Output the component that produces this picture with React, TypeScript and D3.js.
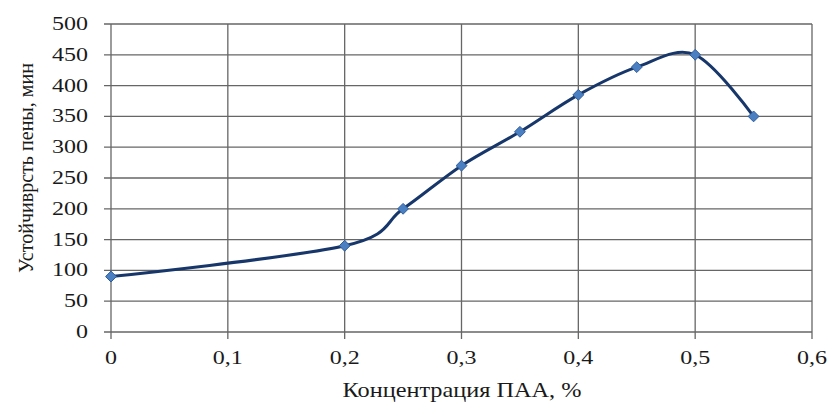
import { useEffect, useRef } from "react";
import * as d3 from "d3";

// Concentration of PAA (%) and foam stability (min)
const CONC = [0, 0.2, 0.25, 0.3, 0.35, 0.4, 0.45, 0.5, 0.55];
const STABILITY = [90, 140, 200, 270, 325, 385, 430, 450, 350];
const X_TICKS = [0, 0.1, 0.2, 0.3, 0.4, 0.5, 0.6];
const Y_TICKS = [0, 50, 100, 150, 200, 250, 300, 350, 400, 450, 500];

const X_TITLE = "Концентрация ПАА, %";
const Y_TITLE = "Устойчиврсть пены, мин";

export default function App() {
  const svgRef = useRef<SVGSVGElement | null>(null);

  useEffect(() => {
    const width = 829;
    const height = 403;
    const margin = { top: 24, right: 17, bottom: 71, left: 111 };
    const innerW = width - margin.left - margin.right;
    const innerH = height - margin.top - margin.bottom;

    const svg = d3.select(svgRef.current);
    svg.selectAll("*").remove();
    svg.attr("width", width).attr("height", height);

    const g = svg.append("g")
      .attr("transform", `translate(${margin.left},${margin.top})`);

    const x = d3.scaleLinear().domain([0, 0.6]).range([0, innerW]);
    const y = d3.scaleLinear().domain([0, 500]).range([innerH, 0]);

    const fmt = (v: number) => String(v).replace(".", ",");
    const font = "'Liberation Serif', 'Times New Roman', serif";
    const gridColor = "#666";
    // the source picture is stretched sideways, so the labels are too
    const stretch = "scale(1.3,1)";

    // ----- grid -----
    g.append("g")
      .selectAll("line")
      .data(Y_TICKS)
      .enter()
      .append("line")
      .attr("x1", -7).attr("x2", innerW)
      .attr("y1", (d) => y(d)).attr("y2", (d) => y(d))
      .attr("stroke", gridColor).attr("stroke-width", 1.3);

    g.append("g")
      .selectAll("line")
      .data(X_TICKS)
      .enter()
      .append("line")
      .attr("x1", (d) => x(d)).attr("x2", (d) => x(d))
      .attr("y1", 0).attr("y2", innerH + 7)
      .attr("stroke", gridColor).attr("stroke-width", 1.3);

    // ----- tick labels -----
    g.append("g")
      .selectAll("text")
      .data(Y_TICKS)
      .enter()
      .append("text")
      .attr("transform", (d) => `translate(-23,${y(d) + 6}) ${stretch}`)
      .attr("text-anchor", "end")
      .attr("font-family", font)
      .attr("font-size", 18.5)
      .attr("fill", "#1a1a1a")
      .text((d) => d);

    g.append("g")
      .selectAll("text")
      .data(X_TICKS)
      .enter()
      .append("text")
      .attr("transform", (d) => `translate(${x(d)},${innerH + 32}) ${stretch}`)
      .attr("text-anchor", "middle")
      .attr("font-family", font)
      .attr("font-size", 18.5)
      .attr("fill", "#1a1a1a")
      .text((d) => fmt(d));

    // ----- axis titles -----
    svg.append("text")
      .attr("x", 462).attr("y", 397)
      .attr("text-anchor", "middle")
      .attr("font-family", font)
      .attr("font-size", 21)
      .attr("textLength", 239)
      .attr("lengthAdjust", "spacingAndGlyphs")
      .attr("fill", "#1a1a1a")
      .text(X_TITLE);

    svg.append("text")
      .attr("transform", "translate(33,168) rotate(-90)")
      .attr("text-anchor", "middle")
      .attr("font-family", font)
      .attr("font-size", 20)
      .attr("textLength", 210)
      .attr("lengthAdjust", "spacingAndGlyphs")
      .attr("fill", "#1a1a1a")
      .text(Y_TITLE);

    // ----- smoothed line -----
    const pts: [number, number][] = CONC.map((c, i) => [c, STABILITY[i]]);
    const line = d3.line<[number, number]>()
      .x((d) => x(d[0]))
      .y((d) => y(d[1]))
      .curve(d3.curveCardinal.tension(0));

    g.append("path")
      .datum(pts)
      .attr("d", line)
      .attr("fill", "none")
      .attr("stroke", "#17376b")
      .attr("stroke-width", 3);

    // ----- diamond markers -----
    const diamond = d3.symbol().type(d3.symbolDiamond2).size(75);
    g.append("g")
      .selectAll("path")
      .data(pts)
      .enter()
      .append("path")
      .attr("transform", (d) => `translate(${x(d[0])},${y(d[1])})`)
      .attr("d", diamond)
      .attr("fill", "#4a7fc1")
      .attr("stroke", "#2f5c9a")
      .attr("stroke-width", 1);
  }, []);

  return (
    <svg
      ref={svgRef}
      style={{ position: "absolute", left: 0, top: 0, background: "#fff" }}
    />
  );
}
